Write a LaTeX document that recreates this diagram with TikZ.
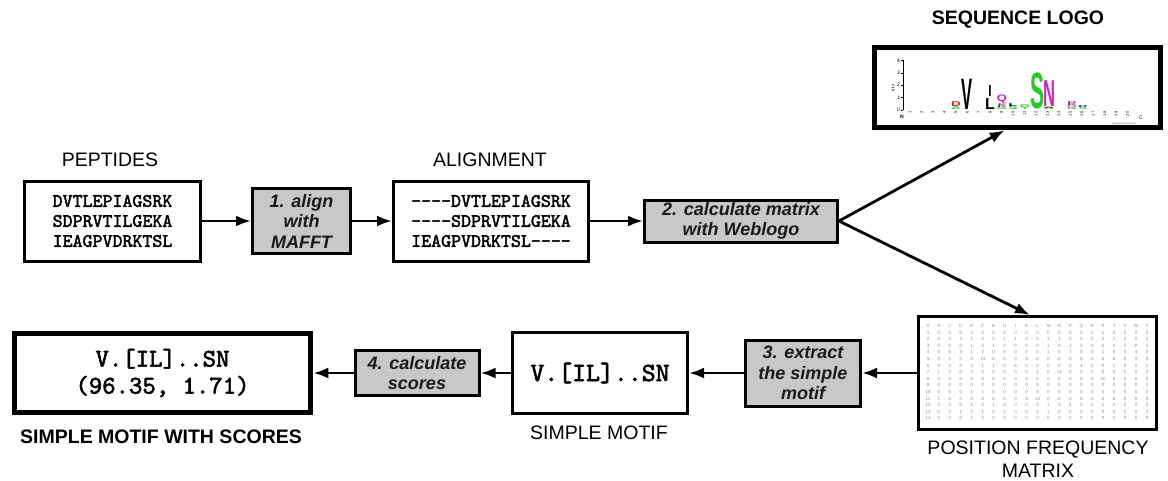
\documentclass[tikz,border=0pt]{standalone}
\usepackage{fontspec}
\setmainfont{Liberation Sans}
\newfontfamily\seqfont{lmmono10-regular.otf}[FakeBold=2.2]
\usetikzlibrary{arrows.meta,calc}

\definecolor{stepgray}{HTML}{C8C8C8}
\definecolor{lgreen}{HTML}{22CC22}
\definecolor{lmagenta}{HTML}{CC22CC}
\definecolor{lred}{HTML}{DD2222}
\definecolor{lblue}{HTML}{2233DD}

\tikzset{
  databox/.style={draw, line width=3pt, fill=white, inner sep=0pt, align=center},
  heavybox/.style={draw, line width=5.5pt, fill=white, inner sep=0pt, align=center},
  stepbox/.style={draw, line width=3pt, fill=stepgray, inner sep=0pt, align=center,
    font=\fontsize{18}{20.5}\selectfont\bfseries\itshape, text=black!90},
  seqtext/.style={font=\fontsize{19}{20}\selectfont\seqfont},
  motiftext/.style={font=\fontsize{25.5}{27}\selectfont\seqfont},
  caption/.style={font=\fontsize{19.5}{23}\selectfont, align=center, inner sep=0pt},
  boldcaption/.style={font=\fontsize{19.5}{23}\selectfont\bfseries, inner sep=0pt},
  flow/.style={line width=2.8pt, -{Latex[length=15pt,width=11pt]}},
  mcell/.style={font=\fontsize{4.5}{5}\selectfont, text=black!45, inner sep=0pt},
  logotick/.style={font=\fontsize{5}{5}\selectfont, inner sep=0.5pt},
}

% one stacked letter of the sequence logo: letter, colour, x, bottom y, yscale, xscale
\newcommand\logoglyph[6]{%
  \node[inner sep=0pt, anchor=south, text=#2, font=\fontsize{10}{10}\selectfont\bfseries,
        xscale=#6, yscale=#5] at (#3,#4) {#1};}

\begin{document}
\begin{tikzpicture}[x=1pt,y=-1pt]
\useasboundingbox (0,0) rectangle (1168,480);

% ---------- top row ----------
\node[databox, minimum width=176pt, minimum height=80pt, seqtext] (pep) at (112.5,221)
  {DVTLEPIAGSRK\\SDPRVTILGEKA\\IEAGPVDRKTSL};
\node[caption] (peplabel) at (110,160) {PEPTIDES};

\node[stepbox, minimum width=98pt, minimum height=65pt] (step1) at (301.5,221)
  {1. align\\with\\MAFFT};

\node[databox, minimum width=195pt, minimum height=80pt, seqtext] (aln) at (491,221)
  {----DVTLEPIAGSRK\\----SDPRVTILGEKA\\IEAGPVDRKTSL----};
\node[caption] (alnlabel) at (490,160) {ALIGNMENT};

\node[stepbox, minimum width=193pt, minimum height=42pt] (step2) at (741,221)
  {2. calculate matrix\\with Weblogo};

% ---------- sequence logo ----------
\node[heavybox, minimum width=286pt, minimum height=80pt] (logo) at (1017.5,87.5) {};
\node[boldcaption] (logolabel) at (1018,20) {SEQUENCE LOGO};

\draw[line width=0.4pt] (903,110) -- (903,60.4);
\foreach \k in {0,...,4}{
  \draw[line width=0.4pt] (900.5,{110-12.4*\k}) -- (903,{110-12.4*\k});
  \node[logotick, anchor=east] at (900.5,{110-12.4*\k}) {\k};
}
\node[font=\fontsize{4}{4}\selectfont, rotate=90, inner sep=0pt] at (893,88) {bits};
\foreach \i in {1,...,20}
  \node[font=\fontsize{4}{4}\selectfont, rotate=90, anchor=east, inner sep=0pt]
    at ({910+(\i-1)*11.45},111.5) {\i};
\node[logotick, font=\fontsize{5}{5}\selectfont\bfseries] at (902,116.5) {N};
\node[logotick] at (1141,118) {C};
\node[font=\fontsize{2.5}{3}\selectfont, text=black!60, inner sep=0pt] at (1124,124) {weblogo.berkeley.edu};

% stacks, bottom to top
\logoglyph{A}{lgreen}{956}{110}{0.42}{1.35}
\logoglyph{D}{lred}{956}{106.5}{0.7}{1.35}
\logoglyph{V}{black}{967}{110}{4.4}{1.65}
\logoglyph{L}{black}{990}{110}{1.6}{1.6}
\logoglyph{I}{black}{990}{97}{1.6}{1.2}
\logoglyph{G}{lgreen}{1002}{110}{0.28}{1.3}
\logoglyph{K}{lblue}{1002}{108}{0.28}{1.3}
\logoglyph{E}{lred}{1002}{106}{0.25}{1.3}
\logoglyph{Q}{lmagenta}{1002}{104}{0.95}{1.3}
\logoglyph{S}{lgreen}{1013}{110}{0.48}{1.4}
\logoglyph{L}{black}{1013}{106.5}{0.4}{1.4}
\logoglyph{T}{lgreen}{1025}{110}{0.25}{1.4}
\logoglyph{G}{lgreen}{1025}{108}{0.42}{1.3}
\logoglyph{S}{lgreen}{1037}{110}{5.1}{2.1}
\logoglyph{S}{lgreen}{1049}{110}{0.2}{1.6}
\logoglyph{A}{black}{1049}{108.5}{0.2}{1.6}
\logoglyph{N}{lmagenta}{1049}{107}{3.75}{1.66}
\logoglyph{G}{lgreen}{1072}{110}{0.28}{1.3}
\logoglyph{Q}{lmagenta}{1072}{108}{0.25}{1.3}
\logoglyph{K}{lblue}{1072}{106}{0.28}{1.3}
\logoglyph{D}{lred}{1072}{104}{0.28}{1.3}
\logoglyph{S}{lgreen}{1083}{110}{0.28}{1.3}
\logoglyph{R}{lblue}{1083}{108}{0.28}{1.3}

% ---------- position frequency matrix ----------
\node[databox, minimum width=238pt, minimum height=113pt] (mat) at (1037.5,373) {};
\node[caption] (matlabel) at (1038,459) {POSITION FREQUENCY\\MATRIX};

\foreach \c [count=\j from 0] in {\#,A,C,D,E,F,G,H,I,K,L,M,N,P,Q,R,S,T,V,W,Y}
  \node[mcell] at ({928+\j*10.95},326) {\c};
\foreach \row [count=\i] in {
  {0,0,0,0,0,0,1,0,0,0,0,0,0,0,0,1,0,0,0,0},
  {0,0,3,1,0,0,1,1,0,0,3,1,0,0,0,3,1,0,0,2},
  {0,0,0,1,0,1,2,0,0,0,1,0,2,1,0,0,1,1,0,1},
  {0,6,3,1,2,0,0,0,0,0,1,0,1,0,0,1,0,0,4,0},
  {0,0,0,0,14,0,0,0,0,0,0,0,0,0,0,0,0,0,0,0},
  {0,0,0,0,1,1,0,6,0,0,0,0,0,4,0,0,1,0,0,1},
  {1,0,0,0,0,0,0,0,0,1,0,14,0,0,0,0,0,0,0,0},
  {0,0,0,0,0,0,0,0,0,0,0,0,0,0,0,10,0,0,0,0},
  {0,0,0,0,0,0,0,0,0,0,0,0,0,0,0,0,0,0,0,1},
  {0,0,0,1,1,0,0,0,0,8,0,0,0,0,0,0,0,0,0,0},
  {1,0,0,0,0,0,0,0,0,14,0,0,0,0,0,0,0,0,0,0},
  {2,0,0,1,2,1,0,0,0,2,1,3,4,0,0,1,1,0,0,0},
  {0,0,1,0,1,0,1,0,0,1,1,0,0,0,0,0,0,0,0,0},
  {0,0,0,1,0,0,0,0,0,0,0,0,0,0,0,0,0,0,0,0}}{
  \node[mcell] at (928,{326+\i*6.6}) {\i};
  \foreach \v [count=\j] in \row
    \node[mcell] at ({928+\j*10.95},{326+\i*6.6}) {\v};
}

% ---------- bottom row ----------
\node[stepbox, minimum width=115pt, minimum height=66pt] (step3) at (803,373)
  {3. extract\\the simple\\motif};

\node[databox, minimum width=175pt, minimum height=81pt] (motif) at (600,373)
  {\fontsize{26.5}{27}\selectfont\seqfont V.[IL]..SN};
\node[caption] (motiflabel) at (599,433) {SIMPLE MOTIF};

\node[stepbox, minimum width=124pt, minimum height=45pt] (step4) at (417,373)
  {4. calculate\\scores};

\node[heavybox, minimum width=296pt, minimum height=79pt, motiftext] (final) at (162.5,373)
  {V.[IL]..SN\\(96.35, 1.71)};
\node[boldcaption] (finallabel) at (161,437) {SIMPLE MOTIF WITH SCORES};

% ---------- connectors ----------
\draw[flow] (pep) -- (step1);
\draw[flow] (step1) -- (aln);
\draw[flow] (aln) -- (step2);
\draw[flow] (step2.east) -- ([xshift=133pt]logo.south west);
\draw[flow] (step2.east) -- ([xshift=113pt]mat.north west);
\draw[flow] (mat) -- (step3);
\draw[flow] (step3) -- (motif);
\draw[flow] (motif) -- (step4);
\draw[flow] (step4) -- (final);
\end{tikzpicture}
\end{document}
